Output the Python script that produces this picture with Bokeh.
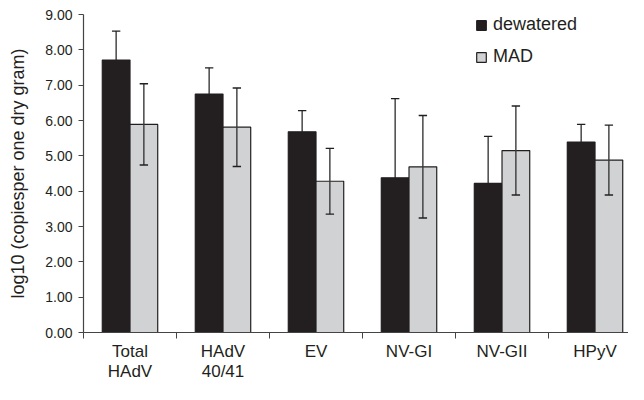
from bokeh.plotting import figure
from bokeh.models import FixedTicker, PrintfTickFormatter, Legend, LegendItem, Range1d
from bokeh.embed import file_html
from bokeh.resources import INLINE

categories = ["Total\nHAdV", "HAdV\n40/41", "EV", "NV-GI", "NV-GII", "HPyV"]
dewatered = [7.71, 6.75, 5.68, 4.38, 4.22, 5.39]
dewatered_sd = [0.82, 0.74, 0.60, 2.24, 1.33, 0.50]
mad = [5.89, 5.81, 4.28, 4.69, 5.15, 4.88]
mad_sd = [1.15, 1.11, 0.93, 1.45, 1.26, 0.99]
y_ticks = [0, 1, 2, 3, 4, 5, 6, 7, 8, 9]

FONT = "Liberation Sans"
INK = "#231f20"
GREY = "#d1d2d4"
ERR = "#3a3a3a"

n = len(categories)
centers = [i + 0.5 for i in range(n)]
bw = 0.298
xb = [c - bw / 2 for c in centers]
xg = [c + bw / 2 for c in centers]
cap = 0.045

p = figure(width=628, height=384, output_backend="svg", toolbar_location=None,
           x_range=Range1d(0, 5.86), y_range=Range1d(0, 9),
           min_border_left=83, min_border_right=0, min_border_top=14, min_border_bottom=52)
p.outline_line_color = None
p.grid.visible = False
p.background_fill_color = "white"

# dewatered error bars (behind bars)
p.segment(x0=xb, x1=xb, y0=[m - s for m, s in zip(dewatered, dewatered_sd)],
          y1=[m + s for m, s in zip(dewatered, dewatered_sd)], line_color=ERR, line_width=1.4)
p.segment(x0=[x - cap for x in xb], x1=[x + cap for x in xb],
          y0=[m + s for m, s in zip(dewatered, dewatered_sd)],
          y1=[m + s for m, s in zip(dewatered, dewatered_sd)], line_color=INK, line_width=1.4)

rb = p.vbar(x=xb, top=dewatered, width=bw, bottom=0, fill_color=INK, line_color=INK, line_width=1.2)
rg = p.vbar(x=xg, top=mad, width=bw, bottom=0, fill_color=GREY, line_color=INK, line_width=1.2)

lo = [m - s for m, s in zip(mad, mad_sd)]
hi = [m + s for m, s in zip(mad, mad_sd)]
p.segment(x0=xg, x1=xg, y0=lo, y1=hi, line_color=ERR, line_width=1.4)
p.segment(x0=[x - cap for x in xg], x1=[x + cap for x in xg], y0=hi, y1=hi, line_color=INK, line_width=1.4)
p.segment(x0=[x - cap for x in xg], x1=[x + cap for x in xg], y0=lo, y1=lo, line_color=INK, line_width=1.4)

# x axis
xa = p.xaxis[0]
xa.ticker = FixedTicker(ticks=centers, minor_ticks=list(range(n + 1)))
xa.major_label_overrides = {c: lab for c, lab in zip(centers, categories)}
xa.major_tick_out = 0
xa.major_tick_in = 0
xa.minor_tick_out = 6
xa.minor_tick_in = 0
xa.minor_tick_line_color = "#444444"
xa.axis_line_color = "#444444"
xa.axis_line_width = 1.2
xa.major_label_standoff = 3
xa.major_label_text_font = FONT
xa.major_label_text_font_size = "17px"
xa.major_label_text_color = INK
xa.major_label_text_line_height = 1.1

# y axis
ya = p.yaxis[0]
ya.ticker = FixedTicker(ticks=y_ticks)
ya.formatter = PrintfTickFormatter(format="%.2f")
ya.major_tick_out = 5
ya.major_tick_in = 0
ya.minor_tick_line_color = None
ya.major_tick_line_color = "#444444"
ya.axis_line_color = "#444444"
ya.axis_line_width = 1.2
ya.major_label_standoff = 6
ya.major_label_text_font = FONT
ya.major_label_text_font_size = "14px"
ya.major_label_text_color = INK
ya.axis_label = "log10 (copiesper one dry gram)"
ya.axis_label_text_font = FONT
ya.axis_label_text_font_size = "18px"
ya.axis_label_text_font_style = "normal"
ya.axis_label_text_color = INK
ya.axis_label_standoff = 14

legend = Legend(items=[LegendItem(label="dewatered", renderers=[rb]),
                       LegendItem(label="MAD", renderers=[rg])],
                location=(392, 265))
legend.border_line_alpha = 0
legend.background_fill_alpha = 0
legend.padding = 0
legend.margin = 0
legend.glyph_width = 12
legend.glyph_height = 12
legend.label_standoff = 6
legend.spacing = 11
legend.label_text_font = FONT
legend.label_text_font_size = "18px"
legend.label_text_color = INK
p.add_layout(legend)

open("out.html", "w").write(file_html(p, INLINE))
